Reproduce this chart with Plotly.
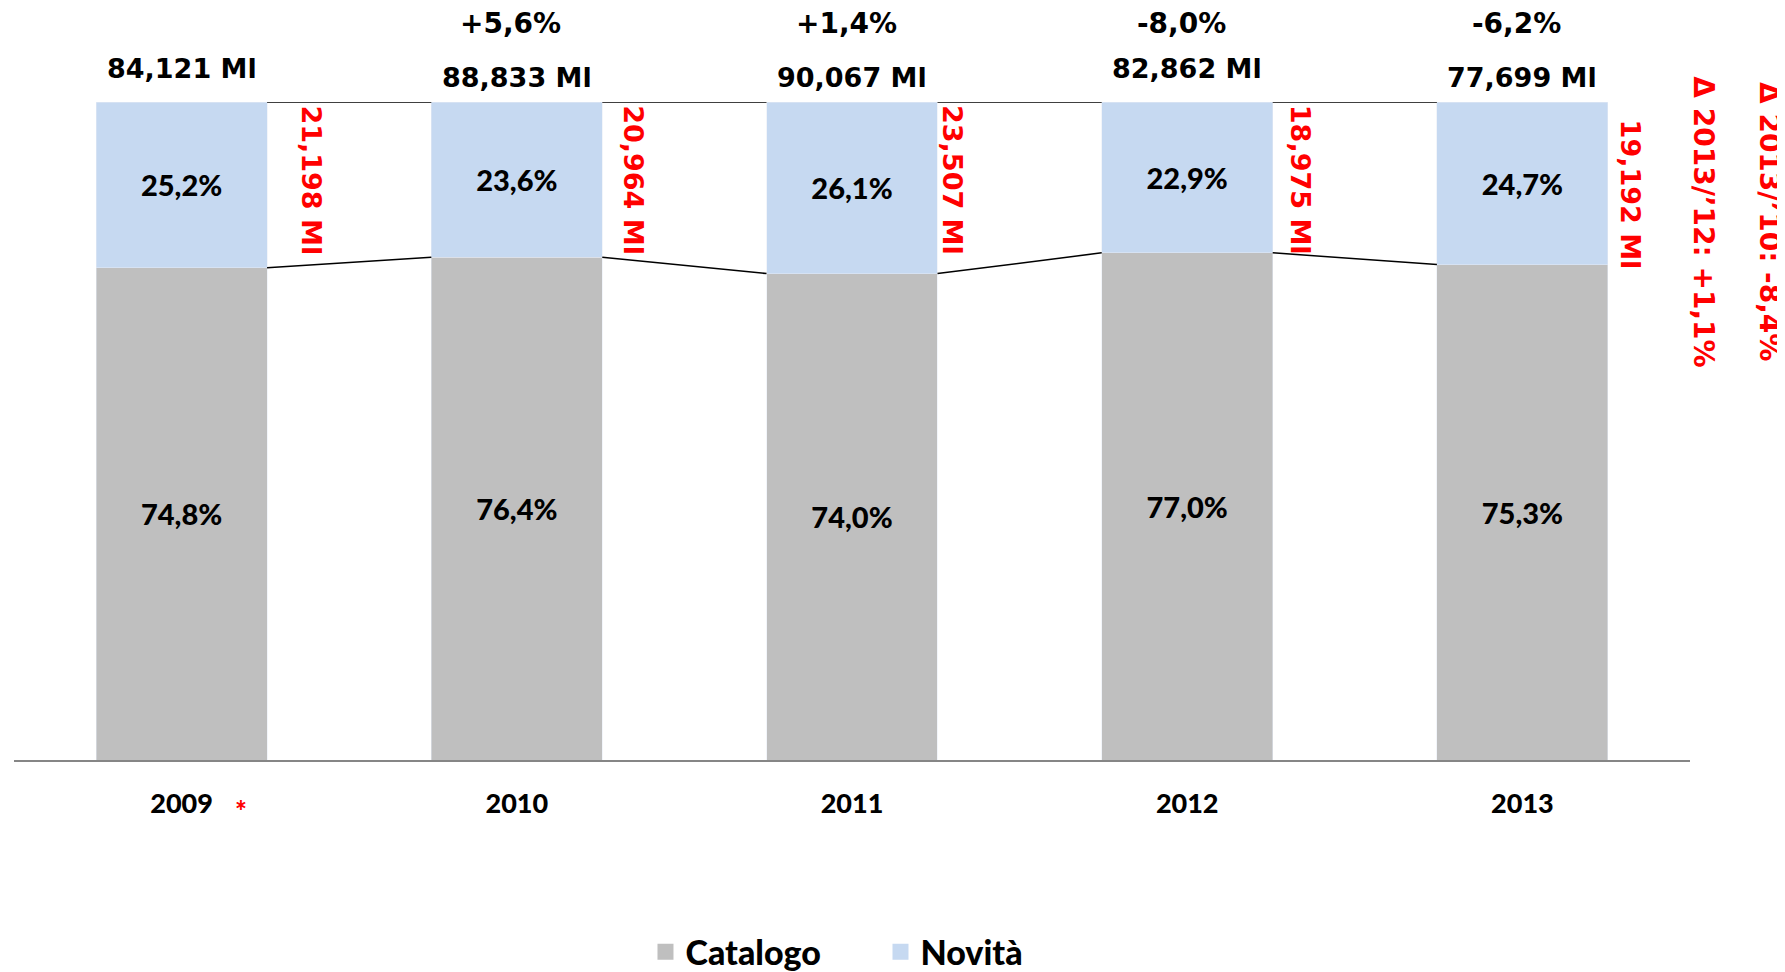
import plotly.graph_objects as go

# values
years = ["2009", "2010", "2011", "2012", "2013"]
catalogo_pct = [74.8, 76.4, 74.0, 77.0, 75.3]
novita_pct = [25.2, 23.6, 26.1, 22.9, 24.7]
totale_ml = [84.121, 88.833, 90.067, 82.862, 77.699]
novita_ml = [21.198, 20.964, 23.507, 18.975, 19.192]
var_totale = [None, 5.6, 1.4, -8.0, -6.2]
delta_labels = ["\u0394 2013/\u201912: +1,1%", "\u0394 2013/\u201910: -8,4%"]

GREY = "#BFBFBF"
BLUE = "#C6D9F1"
RED = "#FF0000"
NARROW = "Lato, 'Open Sans', sans-serif"
WIDE = "'DejaVu Sans', Verdana, sans-serif"
BAR_W = 0.51
HEAVY = 900


def it(v, nd=1, sign=False):
    s = f"{v:+.{nd}f}" if sign else f"{v:.{nd}f}"
    return s.replace(".", ",")


x = list(range(len(years)))
pct_font = dict(family=NARROW, size=29, color="black", weight=HEAVY)

fig = go.Figure()
fig.add_trace(go.Bar(
    x=x, y=catalogo_pct, name="Catalogo", marker_color=GREY, width=BAR_W,
    text=[it(v) + "%" for v in catalogo_pct], textposition="inside",
    insidetextanchor="middle", textangle=0, textfont=pct_font,
    hoverinfo="skip", showlegend=False,
))
fig.add_trace(go.Bar(
    x=x, y=novita_pct, name="Novit\u00e0", marker_color=BLUE, width=BAR_W,
    text=[it(v) + "%" for v in novita_pct], textposition="inside",
    insidetextanchor="middle", textangle=0, textfont=pct_font,
    hoverinfo="skip", showlegend=False,
))

# series lines between the bars
cat_share = [c / (c + n) * 100 for c, n in zip(catalogo_pct, novita_pct)]
lx, ly = [], []
for i in range(len(years) - 1):
    lx += [i + BAR_W / 2, i + 1 - BAR_W / 2, None, i + BAR_W / 2, i + 1 - BAR_W / 2, None]
    ly += [cat_share[i], cat_share[i + 1], None, 100, 100, None]
fig.add_trace(go.Scatter(x=lx, y=ly, mode="lines", line=dict(color="black", width=1.5),
                         showlegend=False, hoverinfo="skip"))

# legend entries with bigger square swatches
for name, col in [("Catalogo", GREY), ("Novit\u00e0", BLUE)]:
    fig.add_trace(go.Scatter(x=[None], y=[None], mode="markers", name=name,
                             marker=dict(symbol="square", size=18, color=col)))

total_shift = [34, 25, 25, 34, 25]
for i, t in enumerate(totale_ml):
    fig.add_annotation(x=i, y=100, text=f"{t:.3f}".replace(".", ",") + " Ml",
                       showarrow=False, yanchor="middle", yshift=total_shift[i],
                       font=dict(family=WIDE, size=27, color="black", weight="bold"))
    if var_totale[i] is not None:
        fig.add_annotation(x=i, y=100, text=it(var_totale[i], sign=True) + "%",
                           showarrow=False, yanchor="middle", yshift=79, xshift=-6,
                           font=dict(family=WIDE, size=28, color="black", weight="bold"))

nov_xshift = [27, 14, -2, 11, 6]
nov_yshift = [-1, -1, -1, -1, -16]
for i, n in enumerate(novita_ml):
    fig.add_annotation(x=i + BAR_W / 2, y=100, text=f"{n:.3f}".replace(".", ",") + " Ml",
                       showarrow=False, textangle=90, xanchor="left", yanchor="top",
                       xshift=nov_xshift[i], yshift=nov_yshift[i],
                       font=dict(family=WIDE, size=27, color=RED, weight="bold"))

for k, lab in enumerate(delta_labels):
    fig.add_annotation(xref="paper", yref="paper", x=1.008 + 0.039 * k, y=0.818,
                       text=lab, showarrow=False, textangle=90,
                       xanchor="center", yanchor="middle",
                       font=dict(family=WIDE, size=28, color=RED, weight="bold"))

fig.add_annotation(x=0, y=0, text="*", showarrow=False, xshift=59, yshift=-50,
                   font=dict(family=NARROW, size=28, color=RED, weight=HEAVY))

fig.update_layout(
    width=1777, height=964,
    barmode="stack", barnorm="percent",
    plot_bgcolor="white", paper_bgcolor="white",
    margin=dict(l=6, r=95, t=94, b=212, autoexpand=False),
    showlegend=True,
    legend=dict(orientation="h", x=0.517, xanchor="center", y=-0.292, yanchor="middle",
                traceorder="normal", entrywidth=190, itemsizing="trace",
                font=dict(family=NARROW, size=34, color="black", weight=HEAVY)),
    xaxis=dict(range=[-0.5, 4.5], tickvals=x, ticktext=years, showgrid=False,
               showline=True, linecolor="#868686", linewidth=2, ticks="",
               ticklabelstandoff=19, zeroline=False,
               tickfont=dict(family=NARROW, size=27, color="black", weight=HEAVY)),
    yaxis=dict(range=[0, 100], visible=False, showgrid=False, zeroline=False),
)

fig.write_html("out.html")
